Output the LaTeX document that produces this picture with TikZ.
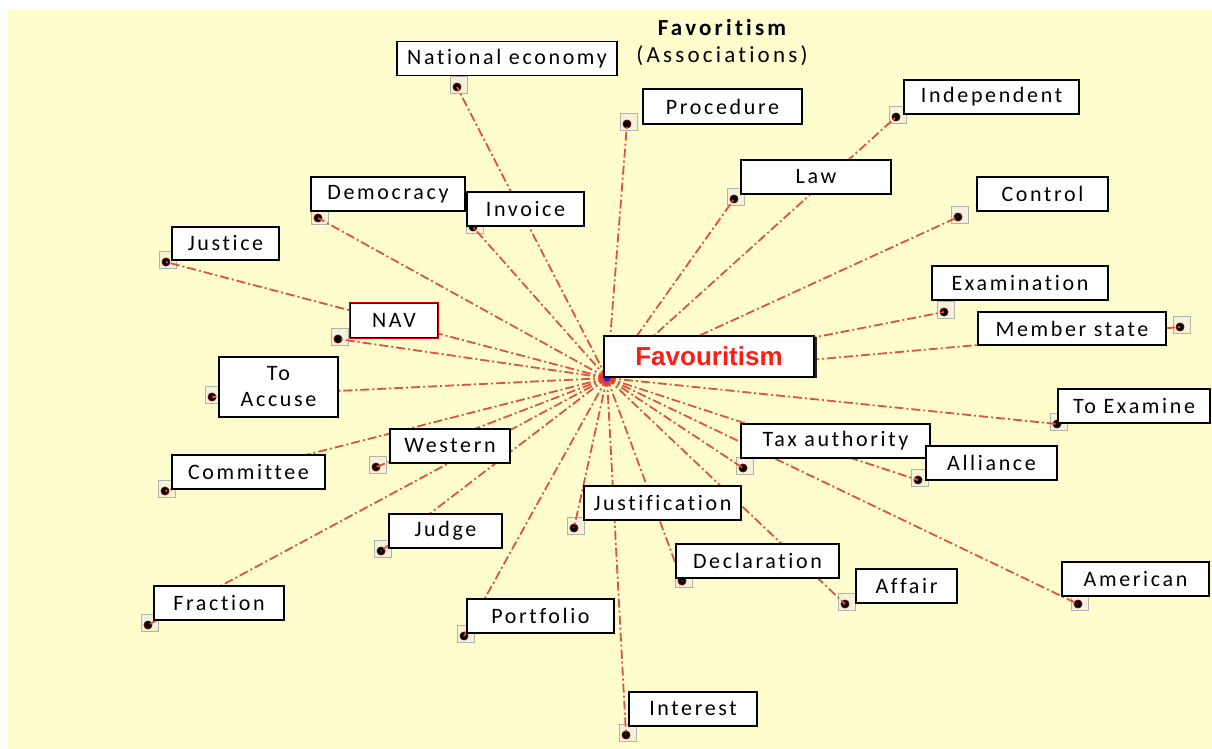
\documentclass[tikz,border=0pt]{standalone}
\usepackage{fontspec}
\setmainfont{Carlito}
\newfontfamily\lblfont{Carlito}[LetterSpace=12, Ligatures=NoCommon]
\newfontfamily\titlefont{Carlito}[LetterSpace=14, Ligatures=NoCommon]
\newfontfamily\hubfont{Liberation Sans}
\usetikzlibrary{shadows}
\definecolor{paper}{RGB}{255,252,205}
\definecolor{linkred}{RGB}{220,84,64}
\definecolor{pinframe}{RGB}{178,178,172}
\definecolor{pinfill}{RGB}{246,242,218}
\definecolor{hubred}{RGB}{250,30,20}
\definecolor{hubblue}{RGB}{20,40,230}

\tikzset{
  lbl/.style={draw=black, line width=1.1pt, fill=white, inner sep=2pt,
    font=\lblfont\fontsize{22}{26}\selectfont, align=center},
  link/.style={linkred, line width=1.8pt, dash pattern=on 9pt off 3pt on 2pt off 3pt},
  pin/.style={circle, fill=black, draw=black!60!red, line width=0.8pt, inner sep=0pt, minimum size=8pt},
  pinbox/.style={draw=pinframe, fill=pinfill, line width=0.8pt, minimum size=17pt, inner sep=0pt}
}

% name / pin x / pin y / box centre x / box centre y / box width / box height / text
\def\leaves{
  natecon/457/87/507/58.5/220/34/National economy,
  procedure/627/124/722.5/106.5/159/35/Procedure,
  independent/896/117/991.5/97/175/34/Independent,
  law/734/199/816/177/150/34/Law,
  control/958/217/1042.5/194/131/34/Control,
  democracy/318/218/388/194/154/34/Democracy,
  invoice/473/227/525.5/209/117/34/Invoice,
  justice/166/262/225.5/243.5/107/33/Justice,
  examination/944/312/1020/283/176/34/Examination,
  memberstate/1180/327/1072/328.5/188/33/Member state,
  nav/338/339/394/320.5/88/35/NAV,
  toaccuse/212/397/278.5/387/119/60/{To\\Accuse},
  toexamine/1057/424/1134/406/152/34/To Examine,
  western/376/467/450/446/120/34/Western,
  taxauth/743/468/835.5/441/189/34/Tax authority,
  alliance/918/480/991.5/463/131/34/Alliance,
  committee/165/491/248.5/472/153/34/Committee,
  justification/574/528/662.5/503/157/34/Justification,
  judge/381/551/445.5/531/113/34/Judge,
  declaration/682/581/757.5/561/163/34/Declaration,
  affair/845/604/906.5/586/101/34/Affair,
  american/1078/604/1135.5/579/147/34/American,
  fraction/148/625/219/603/130/34/Fraction,
  portfolio/464/636/540.5/616/147/34/Portfolio,
  interest/626/735/693/709/128/34/Interest%
}

\begin{document}
\begin{tikzpicture}[x=1pt,y=-1pt]
  % page and yellow canvas
  \useasboundingbox (0,0) rectangle (1212,749);
  \fill[white] (0,0) rectangle (1212,749);
  \fill[paper] (8,9) rectangle (1212,749);

  % title
  \node[font=\titlefont\bfseries\fontsize{23}{26}\selectfont] (title) at (722,28) {Favoritism};
  \node[font=\titlefont\fontsize{23}{26}\selectfont] (subtitle) at (722,56) {(Associations)};

  \coordinate (hub) at (607,378);

  % pin frames
  \foreach \n/\px/\py/\cx/\cy/\w/\h/\t in \leaves {
    \node[pinbox] (f-\n) at ({\px+1.5},{\py-2}) {};
  }
  % links from the hub to every pin
  \foreach \n/\px/\py/\cx/\cy/\w/\h/\t in \leaves {
    \node[pin] (p-\n) at (\px,\py) {};
    \draw[link] (hub) -- (p-\n.center);
  }
  % hub marker
  \fill[hubred, opacity=0.55] (hub) circle (8pt);
  \fill[hubblue] (hub) circle (3.5pt);

  % label boxes
  \foreach \n/\px/\py/\cx/\cy/\w/\h/\t in \leaves {
    \node[lbl, minimum width=\w pt, minimum height=\h pt] (b-\n) at (\cx,\cy) {\t};
  }
  \draw[red!85!black, line width=1.1pt] (b-nav.south west) rectangle (b-nav.north east);

  % central concept
  \node[draw=black, line width=1.6pt, fill=white, minimum width=210pt, minimum height=41pt,
        drop shadow={shadow xshift=3pt, shadow yshift=-1pt, fill=black!85, opacity=1},
        font=\hubfont\bfseries\fontsize{26}{30}\selectfont, text=hubred] (center) at (709,356.5) {Favouritism};
\end{tikzpicture}
\end{document}
